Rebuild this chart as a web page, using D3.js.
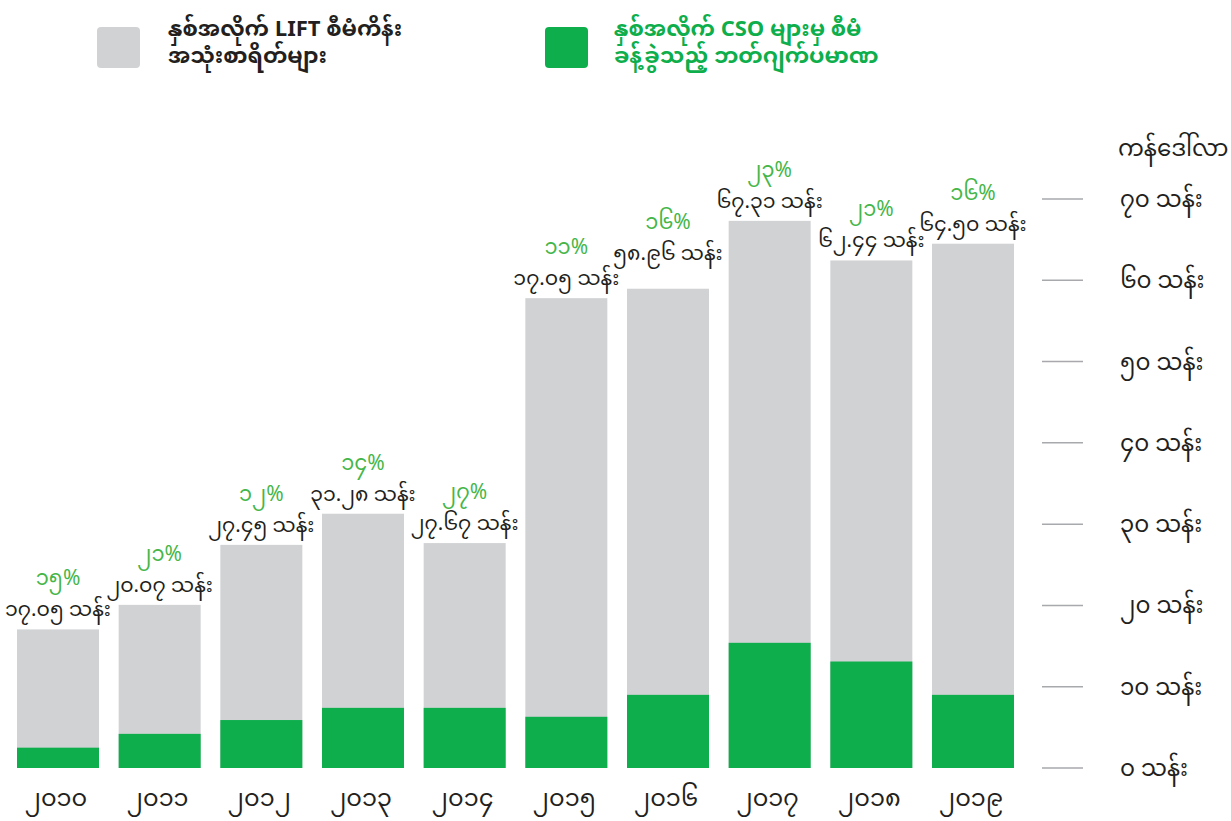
<!DOCTYPE html>
<html>
<head>
<meta charset="utf-8">
<script src="https://cdn.jsdelivr.net/npm/d3@7/dist/d3.min.js"></script>
<style>
  html, body { margin: 0; padding: 0; background: #ffffff; }
  svg { display: block; }
  text { font-family: "Noto Sans Myanmar", "Padauk", "Myanmar Text", "Noto Sans", "DejaVu Sans", sans-serif; }
</style>
</head>
<body>
<svg id="chart" width="1231" height="821"></svg>
<script>
const years = ["၂၀၁၀","၂၀၁၁","၂၀၁၂","၂၀၁၃","၂၀၁၄","၂၀၁၅","၂၀၁၆","၂၀၁၇","၂၀၁၈","၂၀၁၉"];
const totalValues = [17.05, 20.07, 27.45, 31.28, 27.67, 57.8, 58.96, 67.31, 62.44, 64.5];
const csoValues = [2.5, 4.2, 5.9, 7.4, 7.4, 6.3, 9.0, 15.4, 13.1, 9.0];
const totalLabels = ["၁၇.၀၅ သန်း","၂၀.၀၇ သန်း","၂၇.၄၅ သန်း","၃၁.၂၈ သန်း","၂၇.၆၇ သန်း","၁၇.၀၅ သန်း","၅၈.၉၆ သန်း","၆၇.၃၁ သန်း","၆၂.၄၄ သန်း","၆၄.၅၀ သန်း"];
const pctLabels = ["၁၅%","၂၁%","၁၂%","၁၄%","၂၇%","၁၁%","၁၆%","၂၃%","၂၁%","၁၆%"];
const tickValues = [0, 10, 20, 30, 40, 50, 60, 70];
const tickLabels = ["၀ သန်း","၁၀ သန်း","၂၀ သန်း","၃၀ သန်း","၄၀ သန်း","၅၀ သန်း","၆၀ သန်း","၇၀ သန်း"];
const axisTitle = "ကန်ဒေါ်လာ";
const legendGray = ["နှစ်အလိုက် LIFT စီမံကိန်း", "အသုံးစာရိတ်များ"];
const legendGreen = ["နှစ်အလိုက် CSO များမှ စီမံ", "ခန့်ခွဲသည့် ဘတ်ဂျက်ပမာဏ"];

const GRAY = "#d1d2d4", GREEN = "#0dae4b", PCT = "#45b649", DARK = "#231f20";

const svg = d3.select("#chart");
const x = d3.scaleBand().domain(years).range([17, 1014]).paddingInner(0.1935).paddingOuter(0);
const y = d3.scaleLinear().domain([0, 70]).range([768, 199]);

// axis ticks on right
const ticks = svg.append("g");
ticks.selectAll("line").data(tickValues).join("line")
  .attr("x1", 1042).attr("x2", 1083)
  .attr("y1", d => y(d)).attr("y2", d => y(d))
  .attr("stroke", "#a7a9ac").attr("stroke-width", 1.5);
ticks.selectAll("text").data(tickValues).join("text")
  .attr("x", 1120).attr("y", d => y(d) + 8)
  .attr("font-size", 23).attr("fill", DARK)
  .text((d, i) => tickLabels[i]);
svg.append("text").attr("x", 1118).attr("y", 156)
  .attr("font-size", 23).attr("fill", DARK).text(axisTitle);

// bars
svg.append("g").selectAll("rect").data(years).join("rect")
  .attr("x", d => x(d)).attr("width", x.bandwidth())
  .attr("y", (d, i) => y(totalValues[i]))
  .attr("height", (d, i) => y(0) - y(totalValues[i]))
  .attr("fill", GRAY);
svg.append("g").selectAll("rect").data(years).join("rect")
  .attr("x", d => x(d)).attr("width", x.bandwidth())
  .attr("y", (d, i) => y(csoValues[i]))
  .attr("height", (d, i) => y(0) - y(csoValues[i]))
  .attr("fill", GREEN);

// value label baselines with simple collision avoidance against previous label
const baselines = [];
totalValues.forEach((v, i) => {
  let b = y(v) - 13;
  if (i > 0 && Math.abs(b - baselines[i - 1]) < 15) b = baselines[i - 1] - 25;
  baselines.push(b);
});

svg.append("g").selectAll("text").data(years).join("text")
  .attr("x", d => x(d) + x.bandwidth() / 2)
  .attr("y", (d, i) => baselines[i])
  .attr("text-anchor", "middle").attr("font-size", 20.5).attr("fill", DARK)
  .text((d, i) => totalLabels[i]);
svg.append("g").selectAll("text").data(years).join("text")
  .attr("x", d => x(d) + x.bandwidth() / 2)
  .attr("y", (d, i) => baselines[i] - 31)
  .attr("text-anchor", "middle").attr("font-size", 21).attr("fill", PCT)
  .text((d, i) => pctLabels[i]);

// x labels
svg.append("g").selectAll("text").data(years).join("text")
  .attr("x", d => x(d) + x.bandwidth() / 2 - 2)
  .attr("y", 806)
  .attr("text-anchor", "middle").attr("font-size", 24).attr("fill", DARK)
  .text(d => d);

// legend
const lg = svg.append("g");
lg.append("rect").attr("x", 97).attr("y", 27).attr("width", 43).attr("height", 41).attr("rx", 4).attr("fill", GRAY);
lg.append("text").attr("x", 168).attr("y", 36).attr("font-size", 22).attr("font-weight", "bold").attr("fill", DARK)
  .selectAll("tspan").data(legendGray).join("tspan").attr("x", 168).attr("dy", (d, i) => i ? 27 : 0).text(d => d);
lg.append("rect").attr("x", 545).attr("y", 27).attr("width", 43).attr("height", 41).attr("rx", 4).attr("fill", GREEN);
lg.append("text").attr("x", 614).attr("y", 36).attr("font-size", 22).attr("font-weight", "bold").attr("fill", GREEN)
  .selectAll("tspan").data(legendGreen).join("tspan").attr("x", 614).attr("dy", (d, i) => i ? 27 : 0).text(d => d);
</script>
</body>
</html>
